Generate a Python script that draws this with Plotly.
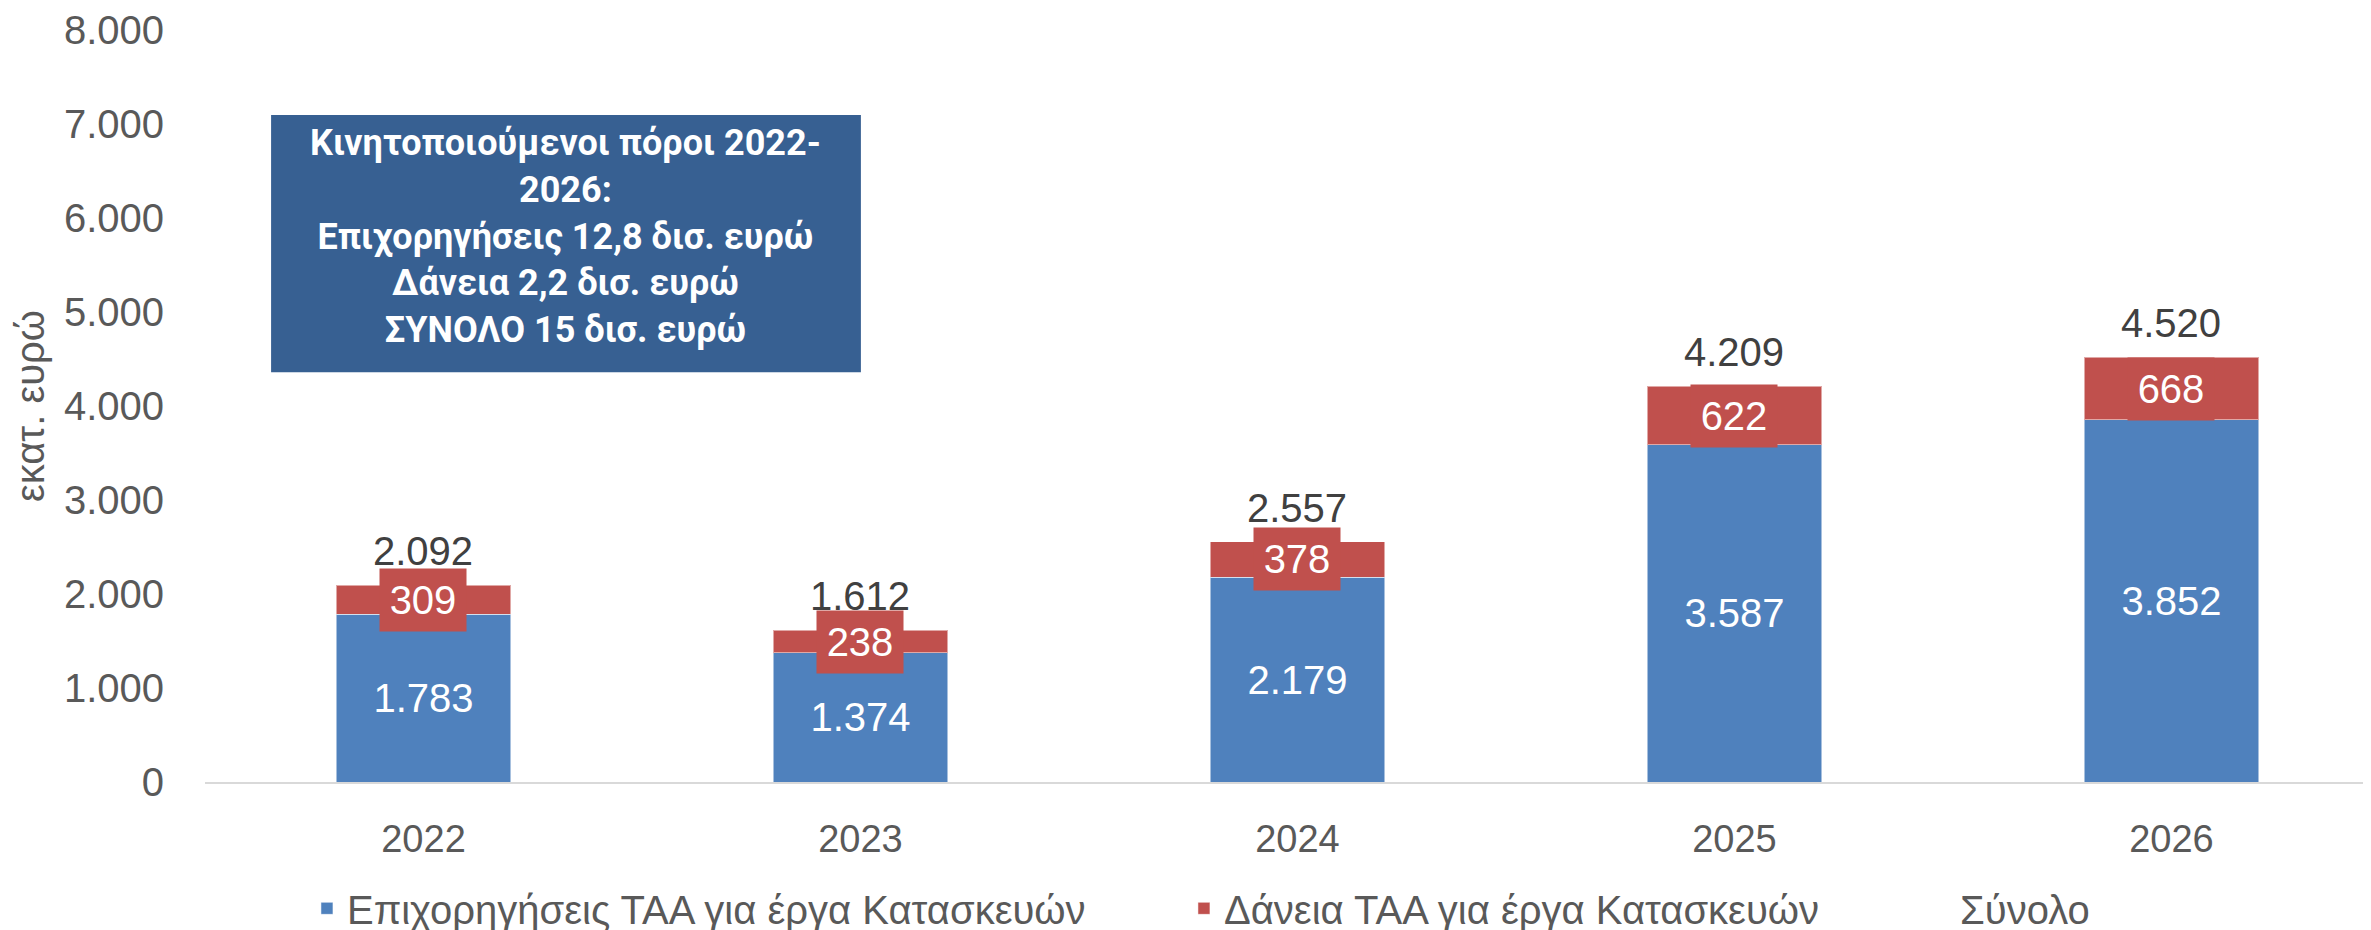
import plotly.graph_objects as go

years = ["2022", "2023", "2024", "2025", "2026"]
grants = [1783, 1374, 2179, 3587, 3852]
loans = [309, 238, 378, 622, 668]
totals = [2092, 1612, 2557, 4209, 4520]

name_grants = "Επιχορηγήσεις ΤΑΑ για έργα Κατασκευών"
name_loans = "Δάνεια ΤΑΑ για έργα Κατασκευών"
name_total = "Σύνολο"
box_text = ("Κινητοποιούμενοι πόροι 2022-<br>2026:<br>Επιχορηγήσεις 12,8 δισ. ευρώ"
            "<br>Δάνεια 2,2 δισ. ευρώ<br>ΣΥΝΟΛΟ 15 δισ. ευρώ")
y_ticks = [0, 1000, 2000, 3000, 4000, 5000, 6000, 7000, 8000]

BLUE = "#4F81BD"
RED = "#C0504D"
BOX = "#376092"
GRAY = "#595959"
FONT = "Liberation Sans, Arial, sans-serif"
LBL = 40


def fmt(v):
    return f"{v:,}".replace(",", ".")


fig = go.Figure()
fig.add_trace(go.Bar(
    x=years, y=grants, name=name_grants, width=0.4, legend="legend",
    marker=dict(color=BLUE, line=dict(color="rgba(255,255,255,0.5)", width=1)),
    text=[fmt(v) for v in grants], textposition="inside", insidetextanchor="middle",
    textfont=dict(color="white", size=LBL, family=FONT), textangle=0,
))
fig.add_trace(go.Bar(
    x=years, y=loans, name=name_loans, width=0.4, legend="legend2",
    marker=dict(color=RED, line=dict(color="rgba(255,255,255,0.5)", width=1)),
))
fig.add_trace(go.Scatter(
    x=years, y=totals, name=name_total, mode="lines", legend="legend3",
    line=dict(color="rgba(0,0,0,0)", width=0), hoverinfo="skip",
))

annotations = []
for i, (g, l, t) in enumerate(zip(grants, loans, totals)):
    annotations.append(dict(
        x=i, y=g + l / 2, xref="x", yref="y", text=fmt(l), showarrow=False,
        font=dict(color="white", size=LBL, family=FONT), bgcolor=RED,
        width=82, height=58, borderpad=2, xanchor="center", yanchor="middle",
    ))
    annotations.append(dict(
        x=i, y=t, xref="x", yref="y", text=fmt(t), showarrow=False,
        font=dict(color="#404040", size=LBL, family=FONT),
        xanchor="center", yanchor="bottom", yshift=10,
    ))

annotations.append(dict(
    x=0.166, y=0.726, xref="paper", yref="paper", text=box_text, showarrow=False,
    font=dict(color="white", size=36, family="Roboto, sans-serif", weight="bold"),
    xanchor="center", yanchor="middle", align="center",
))

leg_common = dict(orientation="h", xanchor="left", y=-0.168, yanchor="middle",
                  font=dict(size=40, color=GRAY, family=FONT))

fig.update_layout(
    width=2371, height=930,
    margin=dict(l=197, r=0, t=22, b=156, autoexpand=False),
    paper_bgcolor="white", plot_bgcolor="white",
    barmode="stack", bargap=0.6,
    font=dict(family=FONT, color=GRAY, size=38),
    showlegend=True,
    legend=dict(x=0.0469, **leg_common),
    legend2=dict(x=0.4503, **leg_common),
    legend3=dict(x=0.7889, **leg_common),
    annotations=annotations,
    shapes=[dict(
        type="rect", xref="paper", yref="paper",
        x0=0.0304, x1=0.3017, y0=0.545, y1=0.887,
        fillcolor=BOX, line=dict(width=0), layer="above",
    )],
)
fig.update_xaxes(
    type="category", range=[-0.5, 4.475], showgrid=False, automargin=False,
    showline=True, linecolor="#D9D9D9", linewidth=2,
    tickfont=dict(size=38, color=GRAY), ticklabelstandoff=22,
)
fig.update_yaxes(
    range=[0, 8000], tickvals=y_ticks, ticktext=[fmt(v) for v in y_ticks],
    showgrid=False, zeroline=False, showline=False, automargin=False,
    tickfont=dict(size=40, color=GRAY), ticklabelstandoff=40,
    title=dict(text="εκατ. ευρώ", font=dict(size=40, color=GRAY), standoff=8),
)

fig.write_html("out.html")
